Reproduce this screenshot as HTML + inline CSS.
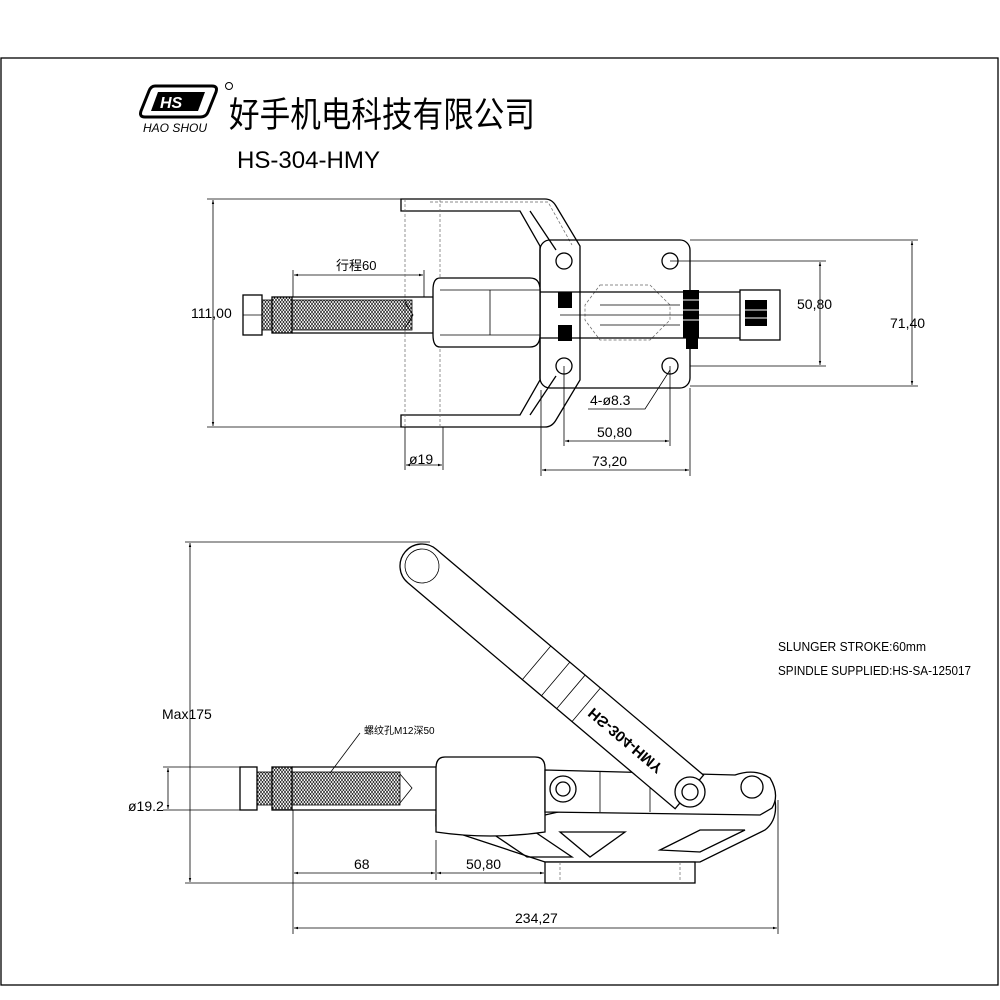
<!DOCTYPE html>
<html><head><meta charset="utf-8"><style>
html,body{margin:0;padding:0;background:#fff;}
svg{display:block;}
text{font-family:"Liberation Sans","Noto Sans CJK SC",sans-serif;fill:#000;}
.s{fill:none;stroke:#000;stroke-width:1.3;}
.t{fill:none;stroke:#000;stroke-width:0.8;}
.d{fill:none;stroke:#666;stroke-width:0.7;stroke-dasharray:3 2;}
.w{fill:#fff;stroke:#000;stroke-width:1.3;}
</style></head><body>
<svg width="1000" height="1000" viewBox="0 0 1000 1000" xmlns="http://www.w3.org/2000/svg">
<defs>
<marker id="a" viewBox="0 0 10 10" refX="10" refY="5" markerWidth="8" markerHeight="5" orient="auto-start-reverse"><path d="M0,2 L10,5 L0,8z" fill="#000"/></marker>
<pattern id="th" width="3" height="4" patternUnits="userSpaceOnUse"><path d="M0,0 L3,4 M3,0 L0,4" stroke="#000" stroke-width="0.6"/></pattern>
</defs>
<rect x="1" y="58" width="997" height="927" fill="none" stroke="#000" stroke-width="1.3"/>

<!-- logo -->
<path d="M155,86 L212,86 Q218,86 216,92 L208,112 Q206,117 200,117 L145,117 Q139,117 141,111 L149,91 Q151,86 155,86z" fill="none" stroke="#000" stroke-width="3"/>
<path d="M158,92 L205,92 L198,111 L151,111z" fill="#000"/>
<text x="160" y="108" font-size="16" font-weight="bold" font-style="italic" style="fill:#fff" font-family="Liberation Serif,serif">HS</text>
<circle cx="229" cy="86" r="3.5" fill="none" stroke="#000" stroke-width="1"/>
<text x="143" y="132" font-size="12" font-style="italic">HAO SHOU</text>
<text x="229" y="127" font-size="35" font-family="Liberation Sans,'Noto Sans CJK SC',sans-serif" textLength="306" lengthAdjust="spacingAndGlyphs">好手机电科技有限公司</text>
<text x="237" y="168" font-size="24" font-family="'Liberation Serif',serif" textLength="143" lengthAdjust="spacingAndGlyphs">HS-304-HMY</text>

<!-- ===== TOP VIEW ===== -->
<g class="t">
<line x1="207" y1="199" x2="405" y2="199"/><line x1="207" y1="427" x2="405" y2="427"/>
<line x1="690" y1="240" x2="918" y2="240"/><line x1="690" y1="386" x2="918" y2="386"/>
<line x1="670" y1="261" x2="826" y2="261"/><line x1="690" y1="366" x2="826" y2="366"/>
<line x1="405" y1="427" x2="405" y2="470"/><line x1="443" y1="427" x2="443" y2="470"/>
<line x1="541" y1="390" x2="541" y2="476"/><line x1="690" y1="388" x2="690" y2="476"/>
<line x1="564" y1="366" x2="564" y2="446"/><line x1="670" y1="366" x2="670" y2="446"/>
<line x1="293" y1="270" x2="293" y2="297"/><line x1="424" y1="270" x2="424" y2="297"/>
</g>
<g stroke="#000" stroke-width="0.8" fill="none" marker-start="url(#a)" marker-end="url(#a)">
<line x1="213" y1="200" x2="213" y2="426"/>
<line x1="820" y1="262" x2="820" y2="365"/>
<line x1="912" y1="241" x2="912" y2="385"/>
<line x1="565" y1="441" x2="669" y2="441"/>
<line x1="542" y1="470" x2="689" y2="470"/>
<line x1="294" y1="275" x2="423" y2="275"/>
<line x1="406" y1="465" x2="442" y2="465"/>
</g>
<g font-size="14">
<text x="191" y="318">111,00</text>
<text x="797" y="309">50,80</text>
<text x="890" y="328">71,40</text>
<text x="597" y="437">50,80</text>
<text x="592" y="466">73,20</text>
<text x="409" y="464">ø19</text>
<text x="336" y="270" font-family="'Noto Sans CJK SC',sans-serif" font-size="13">行程60</text>
<text x="590" y="405">4-ø8.3</text>
</g>
<polyline class="t" points="588,409 645,409 670,370"/>

<!-- bracket -->
<path class="s" d="M401,199 L545,199 Q552,199 556,206 L580,246 L580,380 L556,420 Q552,427 545,427 L401,427 L401,415 L520,415 L540,380 L540,246 L520,211 L401,211z"/>
<path class="d" d="M405,199 L405,427 M440,199 L440,427 M430,202 L548,202 L572,245"/>
<path class="s" d="M530,211 L556,250 M530,415 L556,376"/>
<!-- plate -->
<rect class="s" x="540" y="240" width="150" height="148" rx="10"/>
<g class="s"><circle cx="564" cy="261" r="8"/><circle cx="670" cy="261" r="8"/><circle cx="564" cy="366" r="8"/><circle cx="670" cy="366" r="8"/></g>
<path class="d" d="M600,285 L650,285 L670,305 L670,320 L650,340 L600,340 L585,320 L585,305z"/>
<!-- rod -->
<rect class="w" x="243" y="295" width="19" height="40"/>
<line class="t" x1="243" y1="315" x2="262" y2="315"/>
<rect x="262" y="300" width="150" height="30" fill="url(#th)" stroke="#000" stroke-width="0.8"/>
<rect class="w" x="272" y="297" width="20" height="36"/>
<rect x="272" y="297" width="20" height="36" fill="url(#th)"/>
<path class="s" d="M292,297 L433,297 M292,333 L433,333"/>
<path class="t" d="M405,302 L413,315 L405,328"/>
<path class="w" d="M440,278 L530,278 Q540,278 540,290 L540,335 Q540,347 530,347 L440,347 Q433,347 433,335 L433,290 Q433,278 440,278z"/>
<path class="t" d="M440,290 L540,290 M440,335 L540,335 M490,290 L490,335"/>
<path class="s" d="M540,292 L740,292 M540,338 L740,338"/>
<rect class="w" x="740" y="290" width="40" height="50"/>
<g fill="#000"><rect x="558" y="292" width="14" height="16"/><rect x="558" y="325" width="14" height="16"/><rect x="683" y="290" width="16" height="48"/><rect x="745" y="300" width="22" height="26"/><rect x="686" y="335" width="12" height="14"/></g>
<g stroke="#fff" stroke-width="1"><line x1="683" y1="300" x2="699" y2="300"/><line x1="683" y1="310" x2="699" y2="310"/><line x1="683" y1="320" x2="699" y2="320"/><line x1="745" y1="310" x2="767" y2="310"/><line x1="745" y1="318" x2="767" y2="318"/></g>
<path class="t" d="M560,315 L740,315 M600,305 L680,305 M600,325 L680,325"/>

<!-- ===== SIDE VIEW ===== -->
<g class="t">
<line x1="185" y1="542" x2="430" y2="542"/><line x1="185" y1="883" x2="545" y2="883"/>
<line x1="163" y1="767" x2="245" y2="767"/><line x1="163" y1="810" x2="245" y2="810"/>
<line x1="293" y1="810" x2="293" y2="934"/><line x1="778" y1="800" x2="778" y2="934"/>
<line x1="436" y1="840" x2="436" y2="880"/><line x1="545" y1="862" x2="545" y2="880"/>
<line x1="330" y1="773" x2="360" y2="733"/>
</g>
<g stroke="#000" stroke-width="0.8" fill="none" marker-start="url(#a)" marker-end="url(#a)">
<line x1="190" y1="543" x2="190" y2="882"/>
<line x1="168" y1="768" x2="168" y2="809"/>
<line x1="294" y1="873" x2="435" y2="873"/>
<line x1="437" y1="873" x2="544" y2="873"/>
<line x1="294" y1="928" x2="777" y2="928"/>
</g>
<g font-size="14">
<text x="162" y="719">Max175</text>
<text x="128" y="811">ø19.2</text>
<text x="354" y="869">68</text>
<text x="466" y="869">50,80</text>
<text x="515" y="923">234,27</text>
</g>
<text x="364" y="734" font-size="10" font-family="'Liberation Serif','Noto Serif CJK SC',serif">螺纹孔M12深50</text>
<text x="778" y="651" font-size="12.5" textLength="148" lengthAdjust="spacingAndGlyphs">SLUNGER STROKE:60mm</text>
<text x="778" y="675" font-size="12.5" textLength="193" lengthAdjust="spacingAndGlyphs">SPINDLE SUPPLIED:HS-SA-125017</text>

<!-- base -->
<path class="w" d="M436,815 L436,826 L545,862 L700,862 L765,830 Q778,820 775,800 L760,778 L700,780 L545,815z"/>
<path class="s" d="M490,832 L535,832 L572,857 L527,857z M560,832 L625,832 L590,857z M660,850 L700,830 L745,830 L700,852z"/>
<rect class="w" x="545" y="862" width="150" height="21"/>
<path class="d" d="M560,862 L560,883 M680,862 L680,883"/>
<!-- rod -->
<rect class="w" x="240" y="767" width="17" height="43"/>
<rect x="257" y="772" width="143" height="33" fill="url(#th)" stroke="#000" stroke-width="0.8"/>
<rect class="w" x="272" y="767" width="20" height="43"/>
<rect x="272" y="767" width="20" height="43" fill="url(#th)"/>
<path class="s" d="M292,767 L436,767 M292,810 L436,810"/>
<path class="t" d="M400,774 L412,788 L400,803"/>
<!-- barrel -->
<path class="w" d="M445,757 L535,757 Q545,757 545,768 L545,832 Q490,840 436,832 L436,768 Q436,757 445,757z"/>
<!-- link -->
<path class="w" d="M545,770 L735,775 Q755,768 770,778 Q780,795 772,808 L760,815 L545,812z"/>
<circle class="s" cx="563" cy="789" r="13"/><circle class="s" cx="563" cy="789" r="7"/>
<circle class="s" cx="752" cy="787" r="11"/>
<path class="t" d="M600,772 L600,812 M650,774 L650,812"/>
<!-- handle -->
<g transform="translate(422,566) rotate(40.2)">
<path class="w" d="M0,-22 L350,-22 L350,22 L0,22 A22,22 0 0 1 0,-22z"/>
<circle class="t" cx="0" cy="0" r="17"/>
<path class="t" d="M150,-22 L150,22 M175,-22 L175,22 M195,-22 L195,22 M215,-22 L215,22"/>
<text x="222" y="5" font-size="15" font-weight="bold" font-family="'Liberation Serif',serif" textLength="92" lengthAdjust="spacingAndGlyphs" transform="scale(1,-1) translate(0,-2)">HS-304-HMY</text>
</g>
<circle class="w" cx="690" cy="792" r="15"/><circle class="s" cx="690" cy="792" r="8"/>
</svg>
</body></html>
